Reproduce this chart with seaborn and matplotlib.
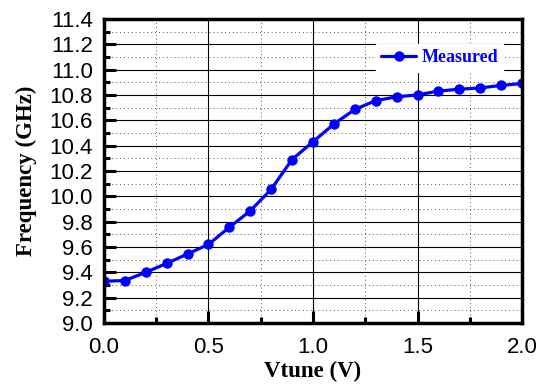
import matplotlib
matplotlib.use("Agg")
import matplotlib.pyplot as plt
import seaborn as sns
import pandas as pd
from matplotlib.ticker import MultipleLocator

vtune = [0.0, 0.1, 0.2, 0.3, 0.4, 0.5, 0.6, 0.7, 0.8, 0.9, 1.0,
         1.1, 1.2, 1.3, 1.4, 1.5, 1.6, 1.7, 1.8, 1.9, 2.0]
freq = [9.33, 9.335, 9.40, 9.47, 9.545, 9.62, 9.755, 9.885, 10.055, 10.29, 10.43,
        10.57, 10.685, 10.755, 10.785, 10.80, 10.83, 10.845, 10.855, 10.875, 10.89]
series_name = "Measured"
xticks = [0.0, 0.5, 1.0, 1.5, 2.0]
yticks = [9.0, 9.2, 9.4, 9.6, 9.8, 10.0, 10.2, 10.4, 10.6, 10.8, 11.0, 11.2, 11.4]

df = pd.DataFrame({"Vtune": vtune, "Frequency": freq, "Series": series_name})

sns.set_style("white")
plt.rcParams["font.family"] = ["Liberation Sans", "DejaVu Sans"]
plt.rcParams["text.color"] = "black"
plt.rcParams["axes.labelcolor"] = "black"

fig = plt.figure(figsize=(5.41, 3.85), dpi=100)
ax = fig.add_axes([0.192, 0.161, 0.773, 0.790])

sns.lineplot(data=df, x="Vtune", y="Frequency", hue="Series", palette=["#0000ff"],
             marker="o", markersize=7.5, markeredgewidth=0, linewidth=2.3, ax=ax,
             clip_on=True, zorder=5)

ax.set_xlim(0, 2.0)
ax.set_ylim(9.0, 11.4)
ax.set_xticks(xticks)
ax.set_yticks(yticks)
ax.set_xticklabels([f"{v:.1f}" for v in xticks])
ax.set_yticklabels([f"{v:.1f}" for v in yticks])
ax.xaxis.set_minor_locator(MultipleLocator(0.25))
ax.yaxis.set_minor_locator(MultipleLocator(0.1))

ax.grid(True, which="major", color="black", linewidth=0.8, linestyle="-")
ax.grid(True, which="minor", color="#555555", linewidth=0.7, linestyle=(0, (1, 3)))
ax.set_axisbelow(True)

for s in ax.spines.values():
    s.set_linewidth(2.5)
    s.set_color("black")
    s.set_zorder(10)

ax.tick_params(axis="both", which="major", direction="in", length=8.5, width=2.2,
               labelsize=16, color="black", labelcolor="black", pad=8, left=True, bottom=True)
ax.tick_params(axis="both", which="minor", direction="in", length=4.3, width=2.2,
               color="black", left=True, bottom=True)
ax.tick_params(axis="x", which="major", pad=10)

ax.set_xlabel("Vtune (V)", fontsize=16.5, fontweight="bold", family="Liberation Serif",
              labelpad=2, color="black")
ax.set_ylabel("Frequency (GHz)", fontsize=16.5, fontweight="bold", family="Liberation Serif",
              labelpad=9, color="black")

leg = ax.legend(loc="upper right", bbox_to_anchor=(0.955, 0.918), borderaxespad=0,
                frameon=True, fancybox=False, handlelength=1.9, handletextpad=0.3,
                borderpad=0.3, prop={"family": "Liberation Serif", "weight": "bold", "size": 13})
leg.get_frame().set_facecolor("white")
leg.get_frame().set_edgecolor("white")
leg.get_frame().set_alpha(1.0)
for t in leg.get_texts():
    t.set_color("#0000ff")
leg.set_zorder(20)

fig.savefig("out.png", dpi=100)
